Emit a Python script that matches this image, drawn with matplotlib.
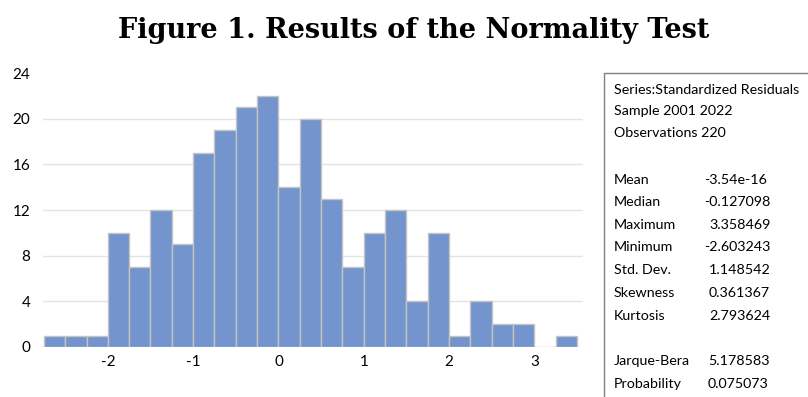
import matplotlib
matplotlib.use("Agg")
import matplotlib.pyplot as plt
import numpy as np

# Data
bin_left = [-2.75, -2.5, -2.25, -2.0, -1.75, -1.5, -1.25, -1.0, -0.75, -0.5, -0.25,
            0.0, 0.25, 0.5, 0.75, 1.0, 1.25, 1.5, 1.75, 2.0, 2.25, 2.5, 2.75, 3.0, 3.25]
counts = [1, 1, 1, 10, 7, 12, 9, 17, 19, 21, 22,
          14, 20, 13, 7, 10, 12, 4, 10, 1, 4, 2, 2, 0, 1]
bin_width = 0.25
x_ticks = [-2, -1, 0, 1, 2, 3]
y_ticks = [0, 4, 8, 12, 16, 20, 24]

title = "Figure 1. Results of the Normality Test"
header_lines = ["Series:Standardized Residuals", "Sample 2001 2022", "Observations 220"]
stat_names = ["Mean", "Median", "Maximum", "Minimum", "Std. Dev.", "Skewness", "Kurtosis"]
stat_values = ["-3.54e-16", "-0.127098", "3.358469", "-2.603243", "1.148542", "0.361367", "2.793624"]
test_names = ["Jarque-Bera", "Probability"]
test_values = ["5.178583", "0.075073"]

W, H = 808, 397
fig = plt.figure(figsize=(W / 100, H / 100), dpi=100)
fig.patch.set_facecolor("white")

ax = fig.add_axes([43 / W, 1 - 347 / H, (583 - 43) / W, (347 - 73) / H])
ax.bar(bin_left, counts, width=bin_width, align="edge", color="#7394cc",
       edgecolor="#c4c4c4", linewidth=1.0, zorder=3)
ax.set_xlim(-2.76, 3.57)
ax.set_ylim(0, 24)
ax.set_xticks(x_ticks)
ax.set_yticks(y_ticks)
ax.set_xticklabels([str(v) for v in x_ticks], fontsize=11, family="Lato")
ax.set_yticklabels([str(v) for v in y_ticks], fontsize=11, family="Lato")
ax.tick_params(length=0, pad=6)
ax.tick_params(axis="y", pad=9)
for s in ax.spines.values():
    s.set_visible(False)
ax.grid(axis="y", color="#e3e3e3", linewidth=1.0, zorder=0)
gl = ax.get_ygridlines()
gl[0].set_visible(False)
gl[-1].set_visible(False)

fig.text(414 / W, 1 - 30 / H, title, ha="center", va="center",
         fontsize=19.5, fontweight="bold", family="DejaVu Serif")

# Stats box
box = plt.Line2D([604 / W, 604 / W, 1.0], [0.0, 1 - 73 / H, 1 - 73 / H],
                 transform=fig.transFigure, color="#808080", linewidth=1.0)
fig.add_artist(box)

fs = 10.3
fam = "Lato"
ys = [90, 111, 133]
for y, t in zip(ys, header_lines):
    fig.text(614 / W, 1 - y / H, t, ha="left", va="center", fontsize=fs, family=fam)
ys2 = [180, 202, 225, 247, 270, 293, 316]
for y, n, v in zip(ys2, stat_names, stat_values):
    fig.text(614 / W, 1 - y / H, n, ha="left", va="center", fontsize=fs, family=fam)
    xv = 704 if v.startswith("-") else 709
    fig.text(xv / W, 1 - y / H, v, ha="left", va="center", fontsize=fs, family=fam)
ys3 = [361, 384]
for y, n, v in zip(ys3, test_names, test_values):
    fig.text(614 / W, 1 - y / H, n, ha="left", va="center", fontsize=fs, family=fam)
    fig.text(708 / W, 1 - y / H, v, ha="left", va="center", fontsize=fs, family=fam)

fig.savefig("out.png", dpi=100)
